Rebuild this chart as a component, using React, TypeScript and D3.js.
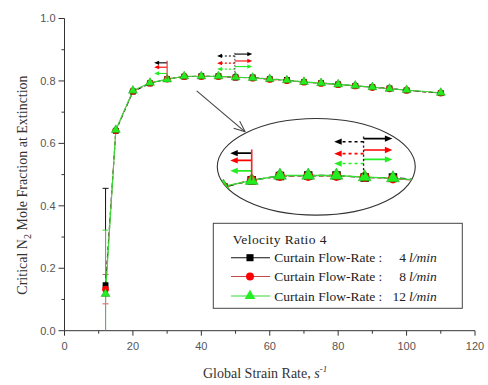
import * as d3 from "d3";

// strain rate (s^-1) and critical N2 mole fraction for each curtain flow-rate
const STRAIN = [12, 15, 20, 25, 30, 35, 40, 45, 50, 55, 60, 65, 70, 75, 80, 85, 90, 95, 100, 110];
const FRAC_4 = [0.146, 0.640, 0.766, 0.792, 0.806, 0.814, 0.815, 0.815, 0.811, 0.811, 0.806, 0.803, 0.796, 0.793, 0.789, 0.784, 0.780, 0.776, 0.770, 0.761];
const FRAC_8 = [0.133, 0.641, 0.767, 0.793, 0.806, 0.814, 0.814, 0.814, 0.812, 0.809, 0.805, 0.801, 0.796, 0.792, 0.788, 0.784, 0.779, 0.775, 0.770, 0.761];
const FRAC_12 = [0.118, 0.643, 0.769, 0.794, 0.805, 0.815, 0.815, 0.815, 0.812, 0.810, 0.806, 0.802, 0.797, 0.793, 0.789, 0.785, 0.780, 0.775, 0.771, 0.762];
// error only on the first point
const ERR_4 = [0.31];
const ERR_8 = [0.047];
const ERR_12 = [0.204];

const FLOW_RATES = ["4", "8", "12"];
const X_TICKS = [0, 20, 40, 60, 80, 100, 120];
const Y_TICKS = [0, 0.2, 0.4, 0.6, 0.8, 1.0];

// annotation arrows (data units), rows for black, red, green
const ARROW_A_Y = [0.858, 0.844, 0.824];
const ARROW_B_LEFT_Y = [0.880, 0.857, 0.838];
const ARROW_B_RIGHT_Y = [0.886, 0.864, 0.846];

const W = 488;
const H = 385;

const COLORS = ["#000000", "#ff0000", "#22ee22"];
const LINE_COLORS = ["#111111", "#c84848", "#33dd33"];

const SANS = "Liberation Sans, Arial, sans-serif";
const SERIF = "Liberation Serif, DejaVu Serif, Times New Roman, serif";

function arrowHead(x1: number, y1: number, x2: number, y2: number, len: number, wid: number) {
  const a = Math.atan2(y2 - y1, x2 - x1);
  const bx = x2 - len * Math.cos(a);
  const by = y2 - len * Math.sin(a);
  const px = (wid / 2) * Math.sin(a);
  const py = (wid / 2) * Math.cos(a);
  return `M${x2},${y2}L${bx + px},${by - py}L${bx - px},${by + py}Z`;
}

function Annotations({ sx, sy, k }: { sx: d3.ScaleLinear<number, number>; sy: d3.ScaleLinear<number, number>; k: number }) {
  const sw = 1.1 * k;
  const hl = 5 * k;
  const hw = 4.2 * k;
  const items: JSX.Element[] = [];
  // arrows at x=30, pointing left
  ARROW_A_Y.forEach((v, i) => {
    const x1 = sx(30), x2 = sx(26.2), yy = sy(v);
    items.push(<line key={"a" + i} x1={x1} y1={yy} x2={x2 + hl * 0.8} y2={yy} stroke={COLORS[i]} strokeWidth={sw} />);
    items.push(<path key={"ah" + i} d={arrowHead(x1, yy, x2, yy, hl, hw)} fill={COLORS[i]} />);
  });
  items.push(<line key="av" x1={sx(30)} x2={sx(30)} y1={sy(0.865)} y2={sy(0.806)} stroke="#e03030" strokeWidth={sw} />);
  // arrows at x=49.8: dashed left, solid right
  ARROW_B_LEFT_Y.forEach((v, i) => {
    const x1 = sx(49.8), x2 = sx(44.6), yy = sy(v);
    items.push(<line key={"bl" + i} x1={x1} y1={yy} x2={x2 + hl * 0.8} y2={yy} stroke={COLORS[i]} strokeWidth={sw} strokeDasharray={`${2 * k},${2 * k}`} />);
    items.push(<path key={"blh" + i} d={arrowHead(x1, yy, x2, yy, hl, hw)} fill={COLORS[i]} />);
  });
  ARROW_B_RIGHT_Y.forEach((v, i) => {
    const x1 = sx(49.8), x2 = sx(54.9), yy = sy(v);
    items.push(<line key={"br" + i} x1={x1} y1={yy} x2={x2 - hl * 0.8} y2={yy} stroke={COLORS[i]} strokeWidth={sw} />);
    items.push(<path key={"brh" + i} d={arrowHead(x1, yy, x2, yy, hl, hw)} fill={COLORS[i]} />);
  });
  items.push(<line key="bv" x1={sx(49.8)} x2={sx(49.8)} y1={sy(0.89)} y2={sy(0.812)} stroke="#222" strokeWidth={sw * 0.8} strokeDasharray={`${1.5 * k},${1.5 * k}`} />);
  return <g>{items}</g>;
}

function Curves({ sx, sy, k }: { sx: d3.ScaleLinear<number, number>; sy: d3.ScaleLinear<number, number>; k: number }) {
  const series = [
    { vals: FRAC_4, sym: d3.symbolSquare, size: 34 },
    { vals: FRAC_8, sym: d3.symbolCircle, size: 36 },
    { vals: FRAC_12, sym: d3.symbolTriangle, size: 34 },
  ];
  return (
    <g>
      {series.map((s, si) => {
        const line = d3.line<number>().x((_, i) => sx(STRAIN[i])).y((d) => sy(d));
        return (
          <path key={"l" + si} d={line(s.vals) ?? ""} fill="none" stroke={LINE_COLORS[si]} strokeWidth={1.1 * Math.sqrt(k)}
            strokeDasharray={si === 0 ? `${4 * k},${3 * k}` : si === 1 ? `${3 * k},${2 * k}` : undefined} />
        );
      })}
      {series.map((s, si) =>
        s.vals.map((v, i) => (
          <path key={`m${si}-${i}`} transform={`translate(${sx(STRAIN[i])},${sy(v)})`}
            d={d3.symbol().type(s.sym).size(s.size * k * k)() ?? ""}
            fill={COLORS[si]} stroke={si === 2 ? "#119911" : "none"} strokeWidth={0.5} />
        ))
      )}
    </g>
  );
}

export default function App() {
  const x = d3.scaleLinear().domain([0, 120]).range([64.5, 475]);
  const y = d3.scaleLinear().domain([0, 1]).range([330.7, 18.5]);
  const ix = d3.scaleLinear().domain([30, 50]).range([251.7, 251.7 + 20 * 5.65]);
  const iy = d3.scaleLinear().domain([0.805, 0.905]).range([180.7, 180.7 - 52]);

  const errs = [ERR_4, ERR_8, ERR_12];
  const fracs = [FRAC_4, FRAC_8, FRAC_12];

  const ex = x(73.6), ey = y(0.525), erx = 99, ery = 48.3;

  const xMinor = d3.range(0, 121, 10);
  const yMinor = d3.range(0, 1.001, 0.1);

  const ax1 = x(38.65), ay1 = y(0.768), ax2 = x(52.8), ay2 = y(0.637);
  const ang = Math.atan2(ay2 - ay1, ax2 - ax1);

  const serifText = { fontFamily: SERIF };

  return (
    <svg width={W} height={H} style={{ position: "absolute", left: 0, top: 0, background: "#fff" }}>
      <defs>
        <clipPath id="plot">
          <rect x={x(0)} y={y(1)} width={x(120) - x(0)} height={y(0) - y(1)} />
        </clipPath>
        <clipPath id="inset">
          <ellipse cx={ex} cy={ey} rx={erx} ry={ery} />
        </clipPath>
      </defs>

      {/* axes */}
      <g stroke="#333" strokeWidth={1}>
        <line x1={x(0)} x2={x(0)} y1={y(1)} y2={y(0)} />
        <line x1={x(0)} x2={x(120)} y1={y(0)} y2={y(0)} />
        {yMinor.map((t, i) => (
          <line key={"yt" + i} x1={x(0) - (i % 2 === 0 ? 6 : 3)} x2={x(0)} y1={y(t)} y2={y(t)} />
        ))}
        {xMinor.map((t, i) => (
          <line key={"xt" + i} x1={x(t)} x2={x(t)} y1={y(0)} y2={y(0) + (i % 2 === 0 ? 5 : 3)} />
        ))}
      </g>
      <g style={{ fontFamily: SANS }} fontSize={11} fill="#555">
        {Y_TICKS.map((t) => (
          <text key={"yl" + t} x={x(0) - 9} y={y(t)} dy="0.35em" textAnchor="end">{d3.format(".1f")(t)}</text>
        ))}
        {X_TICKS.map((t) => (
          <text key={"xl" + t} x={x(t)} y={350} textAnchor="middle">{t}</text>
        ))}
      </g>

      {/* axis titles */}
      <text transform="translate(27,185) rotate(-90)" textAnchor="middle" style={serifText} fontSize={14} fill="#333">
        Critical N<tspan dy="4" fontSize={10}>2</tspan><tspan dy="-4"> Mole Fraction at Extinction</tspan>
      </text>
      <text x={203} y={378} style={serifText} fontSize={14} fill="#333">
        Global Strain Rate, <tspan fontStyle="italic">s</tspan><tspan dy="-6" fontSize={9} fontStyle="italic">-1</tspan>
      </text>

      {/* data */}
      <g clipPath="url(#plot)">
        {fracs.map((f, si) => {
          const cx = x(STRAIN[0]);
          const e = errs[si][0];
          return (
            <g key={"e" + si} stroke={si === 1 ? "#c86060" : LINE_COLORS[si]} strokeWidth={1}>
              <line x1={cx} x2={cx} y1={y(f[0] - e)} y2={y(f[0] + e)} />
              <line x1={cx - 3} x2={cx + 3} y1={y(f[0] + e)} y2={y(f[0] + e)} />
              <line x1={cx - 3} x2={cx + 3} y1={y(f[0] - e)} y2={y(f[0] - e)} />
            </g>
          );
        })}
        <Curves sx={x} sy={y} k={1} />
      </g>
      <Annotations sx={x} sy={y} k={1} />

      {/* pointer arrow */}
      <g stroke="#444" strokeWidth={1.1} fill="none">
        <line x1={ax1} y1={ay1} x2={ax2} y2={ay2} />
        <line x1={ax2} y1={ay2} x2={ax2 - 12 * Math.cos(ang - 0.4)} y2={ay2 - 12 * Math.sin(ang - 0.4)} />
        <line x1={ax2} y1={ay2} x2={ax2 - 12 * Math.cos(ang + 0.4)} y2={ay2 - 12 * Math.sin(ang + 0.4)} />
      </g>

      {/* magnified inset */}
      <ellipse cx={ex} cy={ey} rx={erx} ry={ery} fill="#fff" stroke="#333" strokeWidth={1.1} />
      <g clipPath="url(#inset)">
        <Curves sx={ix} sy={iy} k={1.45} />
        <Annotations sx={ix} sy={iy} k={1.5} />
      </g>

      {/* legend */}
      <rect x={213.3} y={223.3} width={249} height={85} fill="#fff" stroke="#444" strokeWidth={1} />
      <text x={232.7} y={243.5} style={serifText} fontSize={13.5} fill="#222" letterSpacing={0.4}>Velocity Ratio 4</text>
      {FLOW_RATES.map((r, i) => {
        const ly = [257.7, 276.5, 296][i];
        const sym = [d3.symbolSquare, d3.symbolCircle, d3.symbolTriangle][i];
        return (
          <g key={"lg" + i}>
            <line x1={231} x2={270} y1={ly} y2={ly} stroke={LINE_COLORS[i]} strokeWidth={1.1} />
            <path transform={`translate(250,${ly})`} d={d3.symbol().type(sym).size(50)() ?? ""} fill={COLORS[i]} />
            <text x={274.3} y={ly + 4.5} style={serifText} fontSize={13.5} fill="#222">Curtain Flow-Rate :</text>
            <text x={406} y={ly + 4.5} style={serifText} fontSize={13.5} fill="#222" textAnchor="end">{r}</text>
            <text x={409} y={ly + 4.5} style={serifText} fontSize={13.5} fill="#222" fontStyle="italic">l/min</text>
          </g>
        );
      })}
    </svg>
  );
}
